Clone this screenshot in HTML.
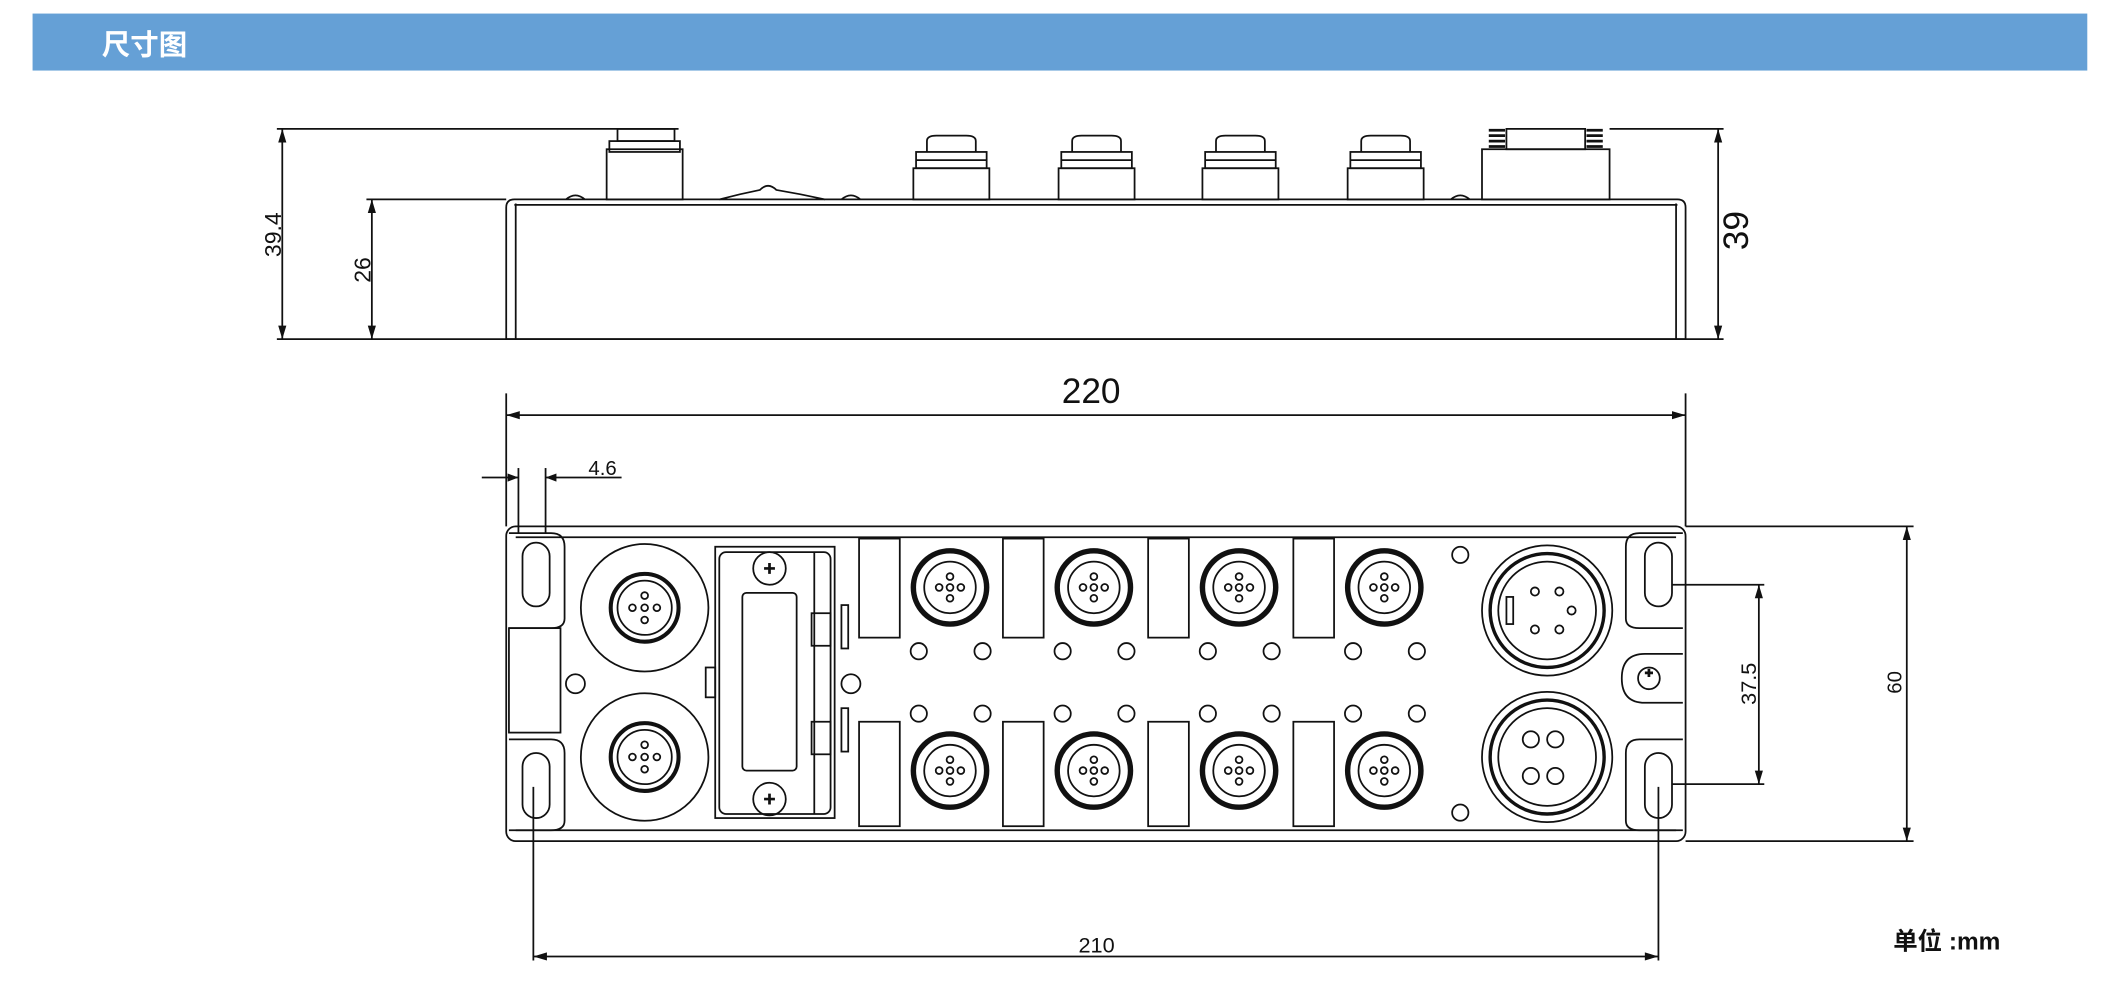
<!DOCTYPE html>
<html><head><meta charset="utf-8"><style>
html,body{margin:0;padding:0;background:#fff;}
svg{display:block;}
</style></head><body>
<svg width="2128" height="1008" viewBox="0 0 1568 743" preserveAspectRatio="none" xmlns="http://www.w3.org/2000/svg" font-family="Liberation Sans, sans-serif">
<rect x="0" y="0" width="1568" height="743" fill="#fff"/>
<rect x="24" y="10" width="1514" height="42" fill="#65a0d6"/>
<text x="75" y="40" font-size="21" font-weight="bold" fill="#fff" font-family="Liberation Sans, 'Noto Sans CJK SC', sans-serif">尺寸图</text>

<g fill="none" stroke="#111" stroke-width="1.3">
<!-- SIDE VIEW -->
<path d="M373 250 V153 Q373 147 379 147 H1236 Q1242 147 1242 153 V250 Z"/>
<line x1="380" y1="150" x2="380" y2="250"/>
<line x1="1235" y1="150" x2="1235" y2="250"/>
<line x1="379" y1="151" x2="1236" y2="151"/>
<!-- M12 left -->
<rect x="447" y="110" width="56" height="37"/>
<rect x="449" y="104" width="52" height="8"/>
<rect x="455" y="95" width="42" height="9"/>
<!-- center bump -->
<path d="M530 147 Q545 143 560 140 Q566 134 572 140 Q590 143 608 147"/>
<!-- bumps -->
<path d="M417 147 Q424 141 431 147"/><path d="M620 147 Q627 141 634 147"/><path d="M1069 147 Q1076 141 1083 147"/>
<!-- M8 side -->
<g id="m8s">
<rect x="673" y="124" width="56" height="23"/>
<rect x="675" y="112" width="52" height="12"/>
<path d="M683 112 V104 Q683 100 690 100 H712 Q719 100 719 104 V112"/>
<line x1="675" y1="118" x2="727" y2="118"/>
</g>
<use href="#m8s" x="107"/><use href="#m8s" x="213"/><use href="#m8s" x="320"/>
<!-- power side -->
<rect x="1092" y="110" width="94" height="37"/>
<rect x="1110" y="95" width="58" height="15"/>
<path d="M1097 96 h12 M1097 100 h12 M1097 104 h12 M1097 108 h12 M1169 96 h12 M1169 100 h12 M1169 104 h12 M1169 108 h12" stroke-width="2"/>

<!-- dims side -->
<line x1="204" y1="95" x2="500" y2="95"/>
<line x1="204" y1="250" x2="1270" y2="250"/>
<line x1="270" y1="147" x2="373" y2="147"/>
<line x1="1186" y1="95" x2="1270" y2="95"/>
<line x1="208" y1="95" x2="208" y2="250"/>
<line x1="274" y1="147" x2="274" y2="250"/>
<line x1="1266" y1="95" x2="1266" y2="250"/>
</g>
<g fill="#111">
<path d="M208 95 l-3 10 h6z M208 250 l-3 -10 h6z M274 147 l-3 10 h6z M274 250 l-3 -10 h6z M1266 95 l-3 10 h6z M1266 250 l-3 -10 h6z"/>
</g>
<g fill="#111" font-size="17">
<text transform="translate(207,173) rotate(-90)" text-anchor="middle">39.4</text>
<text transform="translate(273,199) rotate(-90)" text-anchor="middle">26</text>
<text transform="translate(1288,170) rotate(-90)" text-anchor="middle" font-size="26">39</text>
</g>

<!-- FRONT VIEW -->
<g fill="none" stroke="#111" stroke-width="1.3">
<rect x="373" y="388" width="869" height="232" rx="7"/>
<line x1="380" y1="396" x2="1235" y2="396"/>
<line x1="380" y1="612" x2="1235" y2="612"/>
<!-- left ears -->
<path d="M375 393 H406 Q416 393 416 403 V456 Q416 463 406 463 H375"/>
<rect x="385" y="400" width="20" height="47" rx="10"/>
<rect x="375" y="463" width="38" height="77"/>
<path d="M375 545 H406 Q416 545 416 555 V605 Q416 612 406 612 H375"/>
<rect x="385" y="555" width="20" height="48" rx="10"/>
<!-- right ears -->
<path d="M1240 393 H1208 Q1198 393 1198 403 V456 Q1198 463 1208 463 H1240"/>
<rect x="1212" y="400" width="20" height="47" rx="10"/>
<path d="M1240 545 H1208 Q1198 545 1198 555 V605 Q1198 612 1208 612 H1240"/>
<rect x="1212" y="555" width="20" height="48" rx="10"/>
<path d="M1240 482 H1212 Q1195 482 1195 500 Q1195 518 1212 518 H1240"/>
<circle cx="1215" cy="500" r="8"/>
<path d="M1212 496 h6 M1215 493 v6" stroke-width="2"/>
<!-- big left circles -->
<circle cx="475" cy="448" r="47"/>
<circle cx="475" cy="558" r="47"/>
<circle cx="475" cy="448" r="25" stroke-width="3"/><circle cx="475" cy="448" r="20"/>
<circle cx="475" cy="558" r="25" stroke-width="3"/><circle cx="475" cy="558" r="20"/>
<circle cx="424" cy="504" r="7"/><circle cx="627" cy="504" r="7"/>
<!-- module panel -->
<rect x="527" y="403" width="88" height="200"/>
<rect x="530" y="407" width="82" height="193" rx="5"/>
<line x1="600" y1="407" x2="600" y2="600"/>
<rect x="547" y="437" width="40" height="131" rx="3"/>
<circle cx="567" cy="419" r="12"/><circle cx="567" cy="589" r="12"/>
<path d="M563 419 h8 M567 415 v8 M563 589 h8 M567 585 v8" stroke-width="2"/>
<rect x="520" y="492" width="7" height="22"/>
<rect x="598" y="452" width="14" height="24"/><rect x="598" y="532" width="14" height="24"/>
<rect x="620" y="446" width="5" height="32"/><rect x="620" y="522" width="5" height="32"/>
<!-- LED windows -->
<g id="win"><rect x="633" y="397" width="30" height="73"/><rect x="633" y="532" width="30" height="77"/><circle cx="677" cy="480" rx="6" r="6"/><circle cx="724" cy="480" r="6"/><circle cx="677" cy="526" r="6"/><circle cx="724" cy="526" r="6"/>
<circle cx="700" cy="433" r="27" stroke-width="4"/><circle cx="700" cy="433" r="19"/>
<circle cx="700" cy="568" r="27" stroke-width="4"/><circle cx="700" cy="568" r="19"/>
<circle cx="700" cy="433" r="2.5"/><circle cx="692" cy="433" r="2.5"/><circle cx="708" cy="433" r="2.5"/><circle cx="700" cy="425" r="2.5"/><circle cx="700" cy="441" r="2.5"/>
<circle cx="700" cy="568" r="2.5"/><circle cx="692" cy="568" r="2.5"/><circle cx="708" cy="568" r="2.5"/><circle cx="700" cy="560" r="2.5"/><circle cx="700" cy="576" r="2.5"/>
</g>
<use href="#win" x="106"/><use href="#win" x="213"/><use href="#win" x="320"/>
<!-- big right -->
<circle cx="1140" cy="450" r="48"/><circle cx="1140" cy="450" r="42" stroke-width="2.5"/><circle cx="1140" cy="450" r="36"/>
<circle cx="1140" cy="558" r="48"/><circle cx="1140" cy="558" r="42" stroke-width="2.5"/><circle cx="1140" cy="558" r="36"/>
<circle cx="1131" cy="436" r="3"/><circle cx="1149" cy="436" r="3"/><circle cx="1158" cy="450" r="3"/><circle cx="1131" cy="464" r="3"/><circle cx="1149" cy="464" r="3"/>
<circle cx="1128" cy="545" r="6"/><circle cx="1146" cy="545" r="6"/><circle cx="1128" cy="572" r="6"/><circle cx="1146" cy="572" r="6"/>
<rect x="1110" y="440" width="5" height="20"/>
<circle cx="1076" cy="409" r="6"/><circle cx="1076" cy="599" r="6"/>
<circle cx="475" cy="448" r="2.5"/><circle cx="466" cy="448" r="2.5"/><circle cx="484" cy="448" r="2.5"/><circle cx="475" cy="439" r="2.5"/><circle cx="475" cy="457" r="2.5"/>
<circle cx="475" cy="558" r="2.5"/><circle cx="466" cy="558" r="2.5"/><circle cx="484" cy="558" r="2.5"/><circle cx="475" cy="549" r="2.5"/><circle cx="475" cy="567" r="2.5"/>

<!-- dims front -->
<line x1="373" y1="290" x2="373" y2="388"/>
<line x1="1242" y1="290" x2="1242" y2="388"/>
<line x1="373" y1="306" x2="1242" y2="306"/>
<line x1="382" y1="345" x2="382" y2="393"/>
<line x1="402" y1="345" x2="402" y2="393"/>
<line x1="355" y1="352" x2="382" y2="352"/>
<line x1="402" y1="352" x2="458" y2="352"/>
<line x1="1242" y1="388" x2="1410" y2="388"/>
<line x1="1242" y1="620" x2="1410" y2="620"/>
<line x1="1405" y1="388" x2="1405" y2="620"/>
<line x1="1232" y1="431" x2="1300" y2="431"/>
<line x1="1232" y1="578" x2="1300" y2="578"/>
<line x1="1296" y1="431" x2="1296" y2="578"/>
<line x1="393" y1="580" x2="393" y2="708"/>
<line x1="1222" y1="580" x2="1222" y2="708"/>
<line x1="393" y1="705" x2="1222" y2="705"/>
</g>
<g fill="#111">
<path d="M373 306 l10 -3 v6z M1242 306 l-10 -3 v6z M382 352 l-8 -3 v6z M402 352 l8 -3 v6z M1405 388 l-3 10 h6z M1405 620 l-3 -10 h6z M1296 431 l-3 10 h6z M1296 578 l-3 -10 h6z M393 705 l10 -3 v6z M1222 705 l-10 -3 v6z"/>
</g>
<g fill="#111">
<text x="804" y="297" font-size="26" text-anchor="middle">220</text>
<text x="444" y="350" font-size="15" text-anchor="middle">4.6</text>
<text x="808" y="702" font-size="16" text-anchor="middle">210</text>
<text transform="translate(1294,504) rotate(-90)" font-size="16" text-anchor="middle">37.5</text>
<text transform="translate(1401,503) rotate(-90)" font-size="15" text-anchor="middle">60</text>
<text x="1395" y="700" font-size="18" font-weight="bold" font-family="Liberation Sans, 'Noto Sans CJK SC', sans-serif">单位 :mm</text>
</g>
</svg>
</body></html>
